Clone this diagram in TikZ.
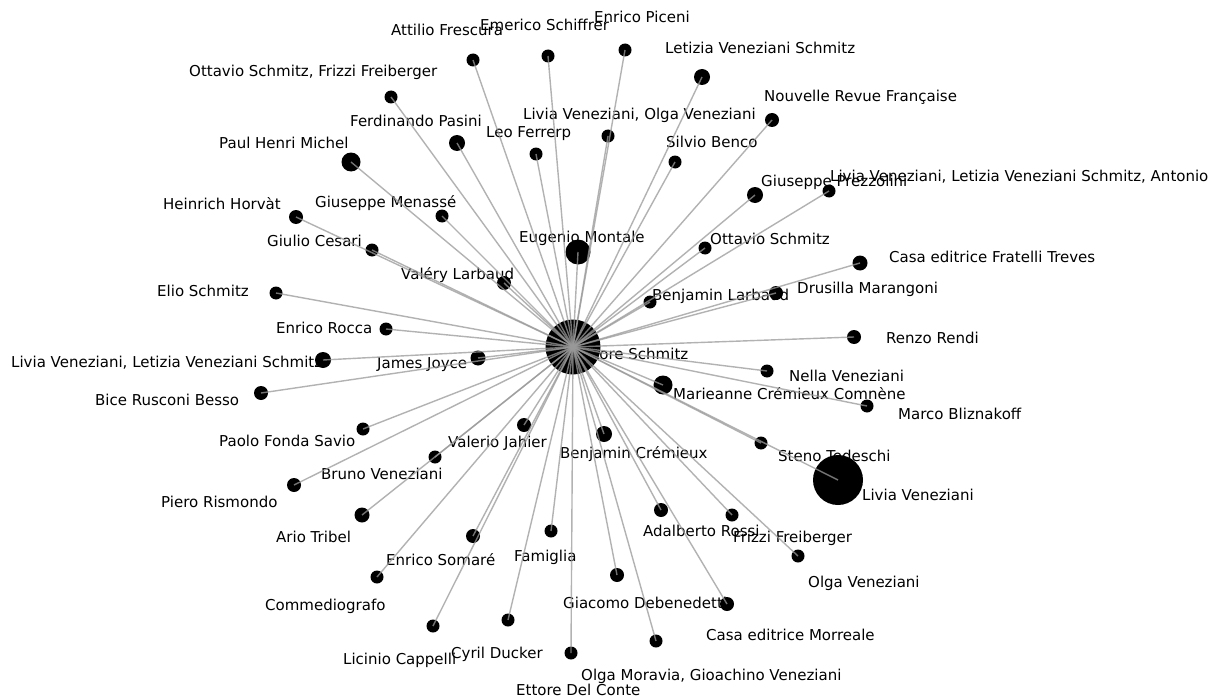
\documentclass[tikz,border=0pt]{standalone}
\usepackage{fontspec}
\setmainfont{DejaVu Sans}
\newcommand\lblfont{\fontsize{15}{18}\selectfont}
\def\people{%
attilio/473/60/13/{Attilio Frescura}/391/31,
emerico/548/56/13/{Emerico Schiffrer}/480/26,
piceni/625/50/13/{Enrico Piceni}/594/18,
letizia/702/77/16/{Letizia Veneziani Schmitz}/665/49,
ottfrizzi/391/97/13/{Ottavio Schmitz, Frizzi Freiberger}/189/72,
nrf/772/120/14/{Nouvelle Revue Française}/764/97,
livolga/608/136/13/{Livia Veneziani, Olga Veneziani}/523/115,
pasini/457/143/16/{Ferdinando Pasini}/350/122,
ferrerp/536/154/13/{Leo Ferrerp}/486/133,
benco/675/162/13/{Silvio Benco}/666/142,
michel/351/162/19/{Paul Henri Michel}/219/143,
prezzolini/755/195/16/{Giuseppe Prezzolini}/761/181,
livletant/829/191/13/{Livia Veneziani, Letizia Veneziani Schmitz, Antonio}/830/176,
horvat/296/217/14/{Heinrich Horvàt}/163/204,
menasse/442/216/13/{Giuseppe Menassé}/315/202,
cesari/372/250/13/{Giulio Cesari}/267/241,
montale/578/252/25/{Eugenio Montale}/519/237,
ottavio/705/248/13/{Ottavio Schmitz}/710/239,
treves/860/263/15/{Casa editrice Fratelli Treves}/889/257,
larbaud/504/283/14/{Valéry Larbaud}/401/274,
elio/276/293/13/{Elio Schmitz}/157/291,
drusilla/776/293/14/{Drusilla Marangoni}/797/288,
blarbaud/650/302/13/{Benjamin Larbaud}/652/295,
rocca/386/329/13/{Enrico Rocca}/276/328,
rendi/854/337/14/{Renzo Rendi}/886/338,
livlet/323/360/16/{Livia Veneziani, Letizia Veneziani Schmitz}/11/362,
joyce/478/358/15/{James Joyce}/377/363,
nella/767/371/13/{Nella Veneziani}/789/376,
marieanne/663/385/19/{Marieanne Crémieux Comnène}/673/394,
bice/261/393/14/{Bice Rusconi Besso}/95/400,
bliznakoff/867/406/13/{Marco Bliznakoff}/898/414,
savio/363/429/13/{Paolo Fonda Savio}/219/441,
jahier/524/425/14/{Valerio Jahier}/448/442,
cremieux/604/434/16/{Benjamin Crémieux}/560/453,
tedeschi/761/443/13/{Steno Tedeschi}/778/456,
bruno/435/457/13/{Bruno Veneziani}/321/474,
rismondo/294/485/14/{Piero Rismondo}/161/502,
livia/838/480/50/{Livia Veneziani}/862/495,
tribel/362/515/15/{Ario Tribel}/276/537,
somare/473/536/14/{Enrico Somaré}/386/560,
famiglia/551/531/13/{Famiglia}/514/556,
rossi/661/510/14/{Adalberto Rossi}/643/531,
frizzi/732/515/13/{Frizzi Freiberger}/733/537,
commedio/377/577/13/{Commediografo}/265/605,
olga/798/556/13/{Olga Veneziani}/808/582,
debenedetti/617/575/14/{Giacomo Debenedetti}/563/603,
morreale/727/604/14/{Casa editrice Morreale}/706/635,
cappelli/433/626/13/{Licinio Cappelli}/343/659,
ducker/508/620/13/{Cyril Ducker}/451/653,
moravia/656/641/13/{Olga Moravia, Gioachino Veneziani}/581/675,
delconte/571/653/13/{Ettore Del Conte}/516/690}
\begin{document}
\begin{tikzpicture}[x=1pt,y=-1pt,
  vtx/.style={circle,fill=black,inner sep=0pt,minimum size=#1},
  lab/.style={anchor=base west,inner sep=0pt,font=\lblfont,text=black},
  link/.style={draw=black!40,draw opacity=.75,line width=1.4pt}]
\useasboundingbox[fill=white] (0,0) rectangle (1212,698);
% labels
\foreach \n/\x/\y/\d/\t/\lx/\ly in \people {
  \node[lab] (l-\n) at (\lx,\ly+5) {\t};
}
\node[lab] (l-hub) at (578,359) {Ettore Schmitz};
% vertices
\node[vtx=55] (hub) at (573,347) {};
\foreach \n/\x/\y/\d/\t/\lx/\ly in \people {
  \node[vtx=\d] (\n) at (\x,\y) {};
}
% edges
\foreach \n/\x/\y/\d/\t/\lx/\ly in \people {
  \draw[link] (hub.center) -- (\n.center);
}
\end{tikzpicture}
\end{document}
